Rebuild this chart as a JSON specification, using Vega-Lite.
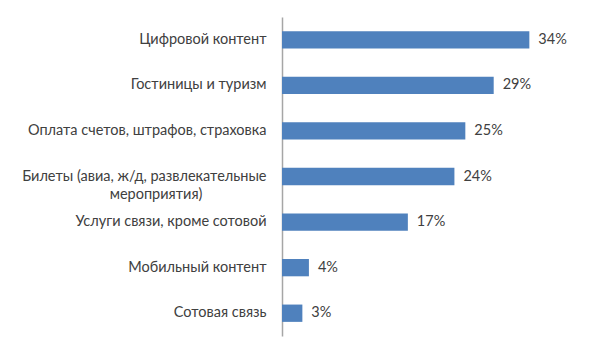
{
  "$schema": "https://vega.github.io/schema/vega-lite/v6.json",
  "autosize": {"type": "none"},
  "width": 291,
  "height": 319,
  "padding": {"left": 282, "top": 17, "right": 19, "bottom": 19},
  "background": "white",
  "config": {"view": {"stroke": null}, "font": "Lato"},
  "data": {
    "values": [
      {"category": "Цифровой  контент", "value": 34, "label": "34%"},
      {"category": "Гостиницы и туризм", "value": 29.1, "label": "29%"},
      {"category": "Оплата счетов, штрафов, страховка", "value": 25.2, "label": "25%"},
      {"category": "Билеты (авиа, ж/д, развлекательные", "line2": "мероприятия)", "value": 23.7, "label": "24%"},
      {"category": "Услуги связи, кроме сотовой", "value": 17.3, "label": "17%"},
      {"category": "Мобильный  контент", "value": 3.7, "label": "4%"},
      {"category": "Сотовая связь", "value": 2.8, "label": "3%"}
    ]
  },
  "encoding": {
    "y": {
      "field": "category",
      "type": "nominal",
      "sort": null,
      "scale": {"paddingInner": 0.62, "paddingOuter": 0.31},
      "axis": {
        "title": null,
        "ticks": false,
        "domainColor": "#A6A6A6",
        "domainWidth": 1.5,
        "labelFont": "Lato",
        "labelFontSize": 14.5,
        "labelColor": "#404040",
        "labelLimit": 400,
        "labelPadding": 16
      }
    }
  },
  "layer": [
    {
      "mark": {"type": "bar", "color": "#4F81BD"},
      "encoding": {"x": {"field": "value", "type": "quantitative", "scale": {"domain": [0, 40]}, "axis": null}}
    },
    {
      "mark": {"type": "text", "align": "left", "dx": 9, "font": "Lato", "fontSize": 14.5, "color": "#404040"},
      "encoding": {
        "x": {"field": "value", "type": "quantitative"},
        "text": {"field": "label"}
      }
    },
    {
      "transform": [{"filter": "isValid(datum.line2)"}],
      "mark": {"type": "text", "align": "center", "baseline": "middle", "dx": -126, "dy": 18, "font": "Lato", "fontSize": 14.5, "color": "#404040"},
      "encoding": {
        "x": {"datum": 0, "type": "quantitative"},
        "text": {"field": "line2"}
      }
    }
  ]
}
